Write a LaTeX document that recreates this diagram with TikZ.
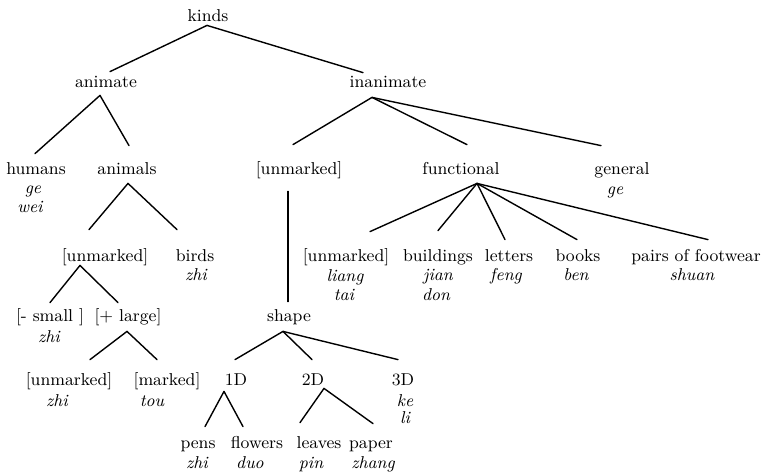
\documentclass[tikz,border=0pt]{standalone}
\usepackage{tikz}
\usetikzlibrary{calc}

\begin{document}
\begin{tikzpicture}[x=0.5pt, y=-0.5pt,
  lbl/.style ={font=\fontsize{8.6}{10}\selectfont, inner sep=1pt,
               text height=6pt, text depth=2pt, anchor=base},
  gls/.style ={font=\fontsize{8.6}{10}\selectfont\itshape, inner sep=0pt,
               anchor=base},
  edge/.style={line width=.7pt, line cap=round}]

  \useasboundingbox (0,0) rectangle (765,472);

  % --- top levels ---------------------------------------------------------
  \node[lbl] (kinds)  at (208, 21) {kinds};
  \node[lbl] (anim)   at (106, 87) {animate};
  \node[lbl] (inanim) at (388, 87) {inanimate};

  % --- animate branch -----------------------------------------------------
  \node[lbl] (humans)  at (36, 174)  {humans};
  \node[gls] (humansA) at (33, 193)  {ge};
  \node[gls] (humansB) at (30, 212)  {wei};
  \node[lbl] (animals) at (127, 174) {animals};
  \node[lbl] (unmL)    at (105, 261) {[unmarked]};
  \node[lbl] (birds)   at (195, 261) {birds};
  \node[gls] (birdsA)  at (196, 280) {zhi};
  \node[lbl] (small)   at (50, 321)  {[- small ]};
  \node[gls] (smallA)  at (49, 342)  {zhi};
  \node[lbl] (large)   at (128, 321) {[+ large]};
  \node[lbl] (unmS)    at (69, 385)  {[unmarked]};
  \node[gls] (unmSA)   at (57, 406)  {zhi};
  \node[lbl] (marked)  at (167, 385) {[marked]};
  \node[gls] (markedA) at (152, 406) {tou};

  % --- inanimate branch ---------------------------------------------------
  \node[lbl] (unmI)    at (299, 174) {[unmarked]};
  \node[lbl] (func)    at (461, 174) {functional};
  \node[lbl] (general) at (622, 174) {general};
  \node[gls] (generalA) at (615, 194) {ge};

  \node[lbl] (unmF)   at (346, 261) {[unmarked]};
  \node[gls] (unmFA)  at (345, 281) {liang};
  \node[gls] (unmFB)  at (344, 300) {tai};
  \node[lbl] (build)  at (438, 261) {buildings};
  \node[gls] (buildA) at (438, 280) {jian};
  \node[gls] (buildB) at (436, 300) {don};
  \node[lbl] (letters)  at (509, 261) {letters};
  \node[gls] (lettersA) at (506, 280) {feng};
  \node[lbl] (books)    at (578, 261) {books};
  \node[gls] (booksA)   at (576, 280) {ben};
  \node[lbl] (foot)     at (696, 261) {pairs of footwear};
  \node[gls] (footA)    at (692, 280) {shuan};

  % --- shape --------------------------------------------------------------
  \node[lbl] (shape) at (289, 321) {shape};
  \node[lbl] (oneD)  at (236, 385) {1D};
  \node[lbl] (twoD)  at (313, 385) {2D};
  \node[lbl] (threeD)  at (403, 385) {3D};
  \node[gls] (threeDA) at (405, 406) {ke};
  \node[gls] (threeDB) at (405, 423) {li};
  \node[lbl] (pens)     at (198, 448) {pens};
  \node[gls] (pensA)    at (197, 468) {zhi};
  \node[lbl] (flowers)  at (257, 448) {flowers};
  \node[gls] (flowersA) at (250, 468) {duo};
  \node[lbl] (leaves)   at (319, 448) {leaves};
  \node[gls] (leavesA)  at (311, 468) {pin};
  \node[lbl] (paper)    at (371, 448) {paper};
  \node[gls] (paperA)   at (373, 468) {zhang};

  % --- edges --------------------------------------------------------------
  \draw[edge] ($(kinds.south)+(-1,-2)$) -- ($(anim.north)+(4,-1)$);
  \draw[edge] ($(kinds.south)+(-1,-2)$) -- ($(inanim.north)+(-25,0)$);
  \draw[edge] ($(anim.south)+(-6,2)$) -- ($(humans.north)+(-1,-6)$);
  \draw[edge] ($(anim.south)+(-6,2)$) -- ($(animals.north)+(2,-14)$);
  \draw[edge] ($(inanim.south)+(-16,4)$) -- ($(unmI.north)+(-6,-15)$);
  \draw[edge] ($(inanim.south)+(-16,4)$) -- ($(func.north)+(6,-15)$);
  \draw[edge] ($(inanim.south)+(-16,4)$) -- ($(general.north)+(-21,-14)$);
  \draw[edge] ($(animals.south)+(1,3)$) -- ($(unmL.north)+(-16,-17)$);
  \draw[edge] ($(animals.south)+(1,3)$) -- ($(birds.north)+(-18,-17)$);
  \draw[edge] ($(unmI.south)+(-11,11)$) -- ($(shape.north)+(-1,-5)$);
  \draw[edge] ($(func.south)+(16,3)$) -- ($(unmF.north)+(24,-15)$);
  \draw[edge] ($(func.south)+(16,3)$) -- ($(build.north)+(0,-16)$);
  \draw[edge] ($(func.south)+(16,3)$) -- ($(letters.north)+(-4,-7)$);
  \draw[edge] ($(func.south)+(16,3)$) -- ($(books.north)+(-1,-7)$);
  \draw[edge] ($(func.south)+(16,3)$) -- ($(foot.north)+(12,-7)$);
  \draw[edge] ($(unmL.south)+(-25,-2)$) -- ($(small.north)+(0,-4)$);
  \draw[edge] ($(unmL.south)+(-25,-2)$) -- ($(large.north)+(-10,-4)$);
  \draw[edge] ($(large.south)+(-1,4)$) -- ($(unmS.north)+(21,-11)$);
  \draw[edge] ($(large.south)+(-1,4)$) -- ($(marked.north)+(-10,-11)$);
  \draw[edge] ($(shape.south)+(-6,4)$) -- ($(oneD.north)+(-1,-11)$);
  \draw[edge] ($(shape.south)+(-6,4)$) -- ($(twoD.north)+(-1,-11)$);
  \draw[edge] ($(shape.south)+(-6,4)$) -- ($(threeD.north)+(-5,-11)$);
  \draw[edge] ($(oneD.south)+(-12,0)$) -- ($(pens.north)+(7,-7)$);
  \draw[edge] ($(oneD.south)+(-12,0)$) -- ($(flowers.north)+(-14,-7)$);
  \draw[edge] ($(twoD.south)+(11,-3)$) -- ($(leaves.north)+(-19,-11)$);
  \draw[edge] ($(twoD.south)+(11,-3)$) -- ($(paper.north)+(2,-10)$);
\end{tikzpicture}
\end{document}
